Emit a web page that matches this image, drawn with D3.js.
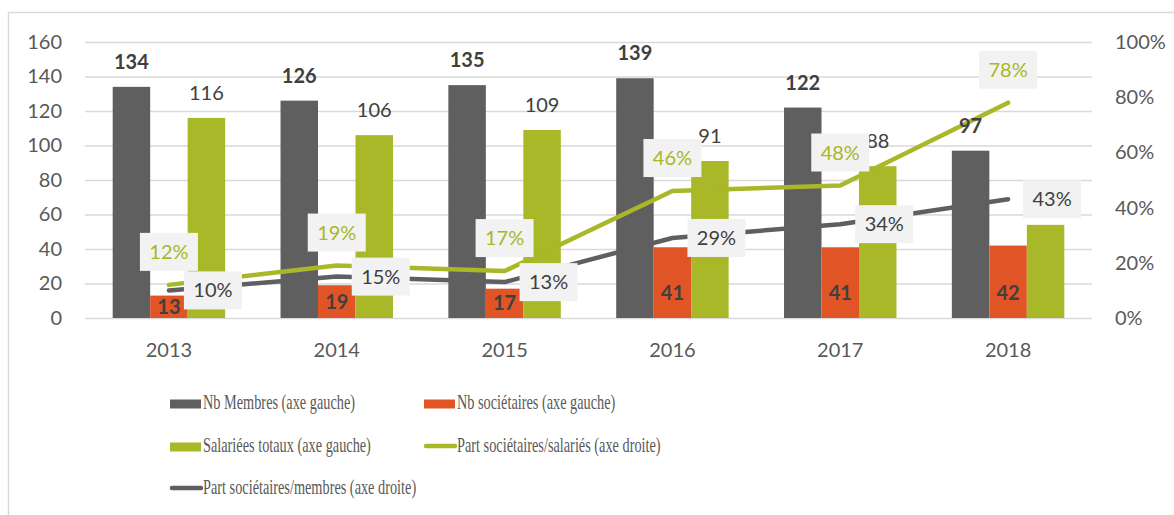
<!DOCTYPE html>
<html>
<head>
<meta charset="utf-8">
<script src="https://cdn.jsdelivr.net/npm/d3@7"></script>
<style>
  html, body { margin: 0; padding: 0; background: #ffffff; }
  svg { display: block; }
</style>
</head>
<body>
<svg id="chart" width="1174" height="515"></svg>
<script>
// Années et séries
const years = ["2013", "2014", "2015", "2016", "2017", "2018"];
const nbMembres = [134, 126, 135, 139, 122, 97];
const nbSocietaires = [13, 19, 17, 41, 41, 42];
const salariesTotaux = [116, 106, 109, 91, 88, 54];
const partSocSalaries = [0.12, 0.19, 0.17, 0.46, 0.48, 0.78];
const partSocMembres = [0.10, 0.15, 0.13, 0.29, 0.34, 0.43];

const leftTicks = [0, 20, 40, 60, 80, 100, 120, 140, 160];
const rightTicks = [0, 0.2, 0.4, 0.6, 0.8, 1.0];

const C_GREY = "#5f5f5f";
const C_ORANGE = "#e05426";
const C_GREEN = "#a8b828";
const C_TEXT = "#595959";
const C_LABEL = "#404040";
const C_GRID = "#d9d9d9";
const FONT = "Lato, 'Open Sans', sans-serif";

const svg = d3.select("#chart");

// Cadre du graphique
svg.append("rect")
  .attr("x", 8.5).attr("y", 12.5)
  .attr("width", 1300).attr("height", 700)
  .attr("fill", "none").attr("stroke", C_GRID).attr("stroke-width", 1.5);

const plotLeft = 85, plotRight = 1092, plotTop = 42, plotBottom = 318;

const x = d3.scaleBand().domain(years).range([plotLeft, plotRight])
  .paddingInner(0.33).paddingOuter(0.165);
const xs = d3.scaleBand().domain([0, 1, 2]).range([0, x.bandwidth()]);
const yL = d3.scaleLinear().domain([0, 160]).range([plotBottom, plotTop]);
const yR = d3.scaleLinear().domain([0, 1]).range([plotBottom, plotTop]);

// Quadrillage + axe gauche
const gL = svg.append("g").attr("transform", `translate(${plotLeft},0)`)
  .call(d3.axisLeft(yL).tickValues(leftTicks).tickSize(-(plotRight - plotLeft)).tickPadding(23));
gL.select(".domain").remove();
gL.selectAll(".tick line").attr("stroke", C_GRID).attr("stroke-width", 1.5);
gL.selectAll(".tick text").attr("fill", C_TEXT).style("font", `20px ${FONT}`);

// Axe droit
const gR = svg.append("g").attr("transform", `translate(${plotRight},0)`)
  .call(d3.axisRight(yR).tickValues(rightTicks).tickSize(0).tickPadding(23)
    .tickFormat(d => Math.round(d * 100) + "%"));
gR.select(".domain").remove();
gR.selectAll(".tick text").attr("fill", C_TEXT).style("font", `20px ${FONT}`);

// Axe des abscisses
const gX = svg.append("g").attr("transform", `translate(0,${plotBottom})`)
  .call(d3.axisBottom(x).tickSize(0).tickPadding(25));
gX.select(".domain").remove();
gX.selectAll(".tick text").attr("fill", C_TEXT).style("font", `20px ${FONT}`);

// Barres
const barSeries = [
  { values: nbMembres, color: C_GREY },
  { values: nbSocietaires, color: C_ORANGE },
  { values: salariesTotaux, color: C_GREEN }
];
barSeries.forEach((s, si) => {
  svg.append("g").selectAll("rect").data(s.values).join("rect")
    .attr("x", (d, i) => x(years[i]) + xs(si))
    .attr("y", d => yL(d))
    .attr("width", xs.bandwidth())
    .attr("height", d => yL(0) - yL(d))
    .attr("fill", s.color);
});

// Courbes
const line = d3.line()
  .x((d, i) => x(years[i]) + x.bandwidth() / 2)
  .y(d => yR(d));
[[partSocMembres, C_GREY], [partSocSalaries, C_GREEN]].forEach(([vals, col]) => {
  svg.append("path").datum(vals)
    .attr("d", line)
    .attr("fill", "none").attr("stroke", col)
    .attr("stroke-width", 4.5)
    .attr("stroke-linecap", "round").attr("stroke-linejoin", "round");
});

// Étiquettes des barres
const gLab = svg.append("g").style("font", `20px ${FONT}`).attr("text-anchor", "middle");
gLab.selectAll("text.m").data(nbMembres).join("text")
  .attr("x", (d, i) => x(years[i]) + xs(0) + xs.bandwidth() / 2)
  .attr("y", d => yL(d) - 25).attr("dy", "0.35em")
  .attr("font-weight", "bold").attr("fill", C_LABEL).text(d => d);
gLab.selectAll("text.s").data(nbSocietaires).join("text")
  .attr("x", (d, i) => x(years[i]) + xs(1) + xs.bandwidth() / 2)
  .attr("y", d => Math.max(yL(0) - 25, (yL(d) + yL(0)) / 2)).attr("dy", "0.35em")
  .attr("font-weight", "bold").attr("fill", C_LABEL).text(d => d);
gLab.selectAll("text.t").data(salariesTotaux.slice(0, 5)).join("text")
  .attr("x", (d, i) => x(years[i]) + xs(2) + xs.bandwidth() / 2)
  .attr("y", d => yL(d) - 25).attr("dy", "0.35em")
  .attr("fill", C_LABEL).text(d => d);

// Étiquettes des pourcentages (encadrées)
function pctLabels(vals, color, dx, dy) {
  const g = svg.append("g").selectAll("g").data(vals).join("g")
    .attr("transform", (d, i) =>
      `translate(${x(years[i]) + x.bandwidth() / 2 + dx},${yR(d) + dy})`);
  g.append("rect").attr("x", -29).attr("y", -19).attr("width", 58).attr("height", 38)
    .attr("fill", "#f2f2f2");
  g.append("text").attr("text-anchor", "middle").attr("dy", "0.35em")
    .style("font", `20px ${FONT}`).attr("fill", color)
    .text(d => Math.round(d * 100) + "%");
}
pctLabels(partSocSalaries, C_GREEN, 0, -33);
pctLabels(partSocMembres, C_LABEL, 44, 0);

// Légende
const legendItems = [
  { label: "Nb Membres (axe gauche)", color: C_GREY, type: "rect", x: 170, y: 409 },
  { label: "Nb sociétaires (axe gauche)", color: C_ORANGE, type: "rect", x: 424, y: 409 },
  { label: "Salariées totaux (axe gauche)", color: C_GREEN, type: "rect", x: 170, y: 452 },
  { label: "Part sociétaires/salariés (axe droite)", color: C_GREEN, type: "line", x: 424, y: 452 },
  { label: "Part sociétaires/membres (axe droite)", color: C_GREY, type: "line", x: 170, y: 494 }
];
const gLeg = svg.append("g");
legendItems.forEach(it => {
  if (it.type === "rect") {
    gLeg.append("rect").attr("x", it.x).attr("y", it.y - 9.5)
      .attr("width", 31).attr("height", 9).attr("fill", it.color);
  } else {
    gLeg.append("line").attr("x1", it.x + 2).attr("x2", it.x + 31)
      .attr("y1", it.y - 6).attr("y2", it.y - 6)
      .attr("stroke", it.color).attr("stroke-width", 4.5).attr("stroke-linecap", "round");
  }
  gLeg.append("text")
    .attr("transform", `translate(${it.x + 33},${it.y}) scale(0.65,1)`)
    .style("font", "22px 'Liberation Serif', serif").attr("fill", C_TEXT)
    .text(it.label);
});
</script>
</body>
</html>
